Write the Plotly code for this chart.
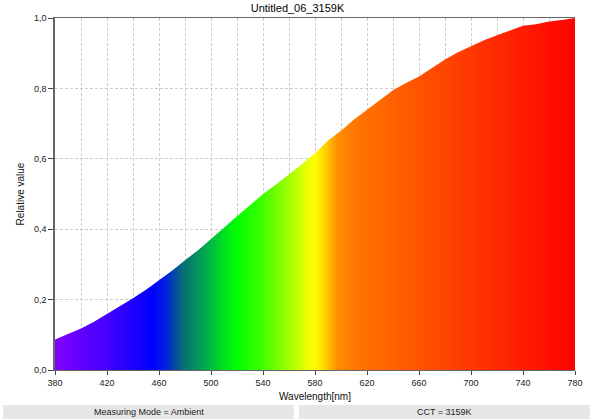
import plotly.graph_objects as go

wavelengths = [380, 390, 400, 410, 420, 430, 440, 450, 460, 470, 480, 490, 500,
               510, 520, 530, 540, 550, 560, 570, 580, 590, 600, 610, 620, 630,
               640, 650, 660, 670, 680, 690, 700, 710, 720, 730, 740, 750, 760,
               770, 780]
relative_values = [0.087, 0.102, 0.118, 0.137, 0.159, 0.180, 0.204, 0.228, 0.254,
                   0.282, 0.312, 0.340, 0.372, 0.405, 0.437, 0.468, 0.500, 0.527,
                   0.555, 0.585, 0.616, 0.652, 0.680, 0.712, 0.739, 0.768, 0.795,
                   0.815, 0.834, 0.858, 0.882, 0.903, 0.921, 0.937, 0.951, 0.965,
                   0.978, 0.982, 0.990, 0.994, 1.000]

color_wavelengths = [380, 420, 455, 465, 478, 495, 510, 520, 540, 560, 575, 580,
                     588, 597, 610, 640, 700, 780]
color_values = ["#8000ff", "#4400ff", "#0000ff", "#0020e0", "#0a6a78", "#00a850",
                "#00e020", "#00ff00", "#40ff00", "#a0ff00", "#f0ff00", "#ffff00",
                "#ffd000", "#ff9000", "#ff7800", "#ff6000", "#ff3800", "#ff0000"]

title_text = "Untitled_06_3159K"
footer_left = "Measuring Mode = Ambient"
footer_right = "CCT = 3159K"

wmin, wmax = 380, 780
colorscale = [[(w - wmin) / (wmax - wmin), c] for w, c in zip(color_wavelengths, color_values)]

font_family = "Liberation Sans, Arial, sans-serif"
grid_color = "#cccccc"
grid_dash = "3px,2px"

fig = go.Figure()
fig.add_trace(go.Scatter(
    x=wavelengths, y=relative_values, mode="lines",
    line=dict(width=0, color="#ff0000"),
    fill="tozeroy",
    fillgradient=dict(type="horizontal", colorscale=colorscale),
    hoverinfo="skip", showlegend=False,
))

fig.update_layout(
    width=595, height=419,
    margin=dict(l=55, r=18, t=18, b=49),
    paper_bgcolor="white", plot_bgcolor="white",
    separators=", ",
    font=dict(family=font_family, size=10, color="#222222"),
    title=dict(text=title_text, x=0.5, xanchor="center", y=0.99, yanchor="top",
               font=dict(size=11, color="#000000")),
    showlegend=False,
)

fig.update_xaxes(
    range=[wmin, wmax], tickmode="linear", tick0=380, dtick=40,
    showgrid=True, gridcolor=grid_color, griddash=grid_dash, gridwidth=1,
    minor=dict(dtick=20, tick0=380, showgrid=True, gridcolor=grid_color,
               griddash=grid_dash, gridwidth=1),
    showline=True, linecolor="#666666", linewidth=1, mirror=True,
    ticks="outside", ticklen=4, tickcolor="#444444",
    tickfont=dict(size=9, color="#222222"),
    title=dict(text="Wavelength[nm]", font=dict(size=10, color="#111111"), standoff=6),
    zeroline=False,
)
fig.update_yaxes(
    range=[0, 1], tickmode="linear", tick0=0, dtick=0.2, tickformat=".1f",
    showgrid=True, gridcolor=grid_color, griddash=grid_dash, gridwidth=1,
    showline=True, linecolor="#666666", linewidth=1.5,
    ticks="outside", ticklen=5, tickcolor="#444444",
    tickfont=dict(size=9, color="#222222"),
    title=dict(text="Relative value", font=dict(size=10, color="#111111"), standoff=7),
    zeroline=False,
)

plot_w, plot_h = 595 - 55 - 18, 419 - 18 - 49
def px_x(p):
    return (p - 55) / plot_w
def px_y(p):
    return (370 - p) / plot_h

for x0, x1, txt in [(3, 295, footer_left), (300, 592, footer_right)]:
    fig.add_shape(type="rect", xref="paper", yref="paper",
                  x0=px_x(x0), x1=px_x(x1), y0=px_y(419), y1=px_y(405),
                  fillcolor="#e6e6e6", line=dict(width=0), layer="above")
    fig.add_annotation(xref="paper", yref="paper", x=(px_x(x0) + px_x(x1)) / 2,
                       y=px_y(412), text=txt, showarrow=False,
                       xanchor="center", yanchor="middle",
                       font=dict(size=9, color="#222222"))

fig.write_html("out.html", config={"displayModeBar": False},
               post_script="document.body.style.margin='0px';")
